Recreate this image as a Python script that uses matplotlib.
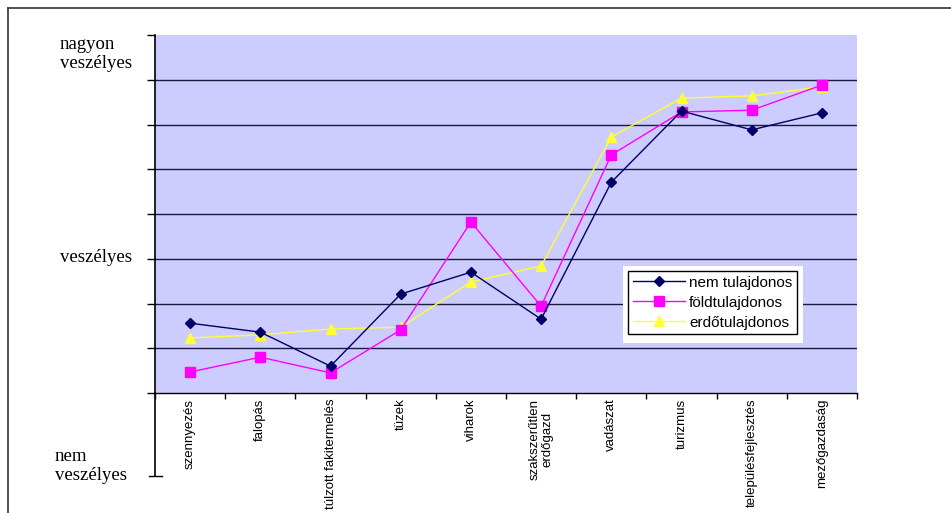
import numpy as np
import matplotlib.pyplot as plt
from matplotlib.lines import Line2D
from matplotlib.patches import Rectangle

categories = ["szennyezés", "falopás", "túlzott fakitermelés", "tüzek", "viharok",
              "szakszerűtlen\nerdőgazd", "vadászat", "turizmus",
              "településfejlesztés", "mezőgazdaság"]
nem_tulajdonos = [1.56, 1.36, 0.60, 2.21, 2.70, 1.65, 4.71, 6.30, 5.88, 6.26]
foldtulajdonos = [0.47, 0.80, 0.45, 1.41, 3.82, 1.94, 5.32, 6.28, 6.32, 6.88]
erdotulajdonos = [1.23, 1.30, 1.43, 1.47, 2.48, 2.84, 5.72, 6.59, 6.64, 6.84]
series_names = ["nem tulajdonos", "földtulajdonos", "erdőtulajdonos"]
level_labels = ["nagyon\nveszélyes", "veszélyes", "nem\nveszélyes"]

W, H = 951, 513
fig = plt.figure(figsize=(W / 100, H / 100), dpi=100)
fig.patch.set_facecolor("white")
# outer frame (only top and left edges are visible in the cropped original)
fig.add_artist(Line2D([8 / W, 1], [1 - 8 / H, 1 - 8 / H], transform=fig.transFigure,
                      color="#333333", linewidth=1.2))
fig.add_artist(Line2D([8 / W, 8 / W], [0, 1 - 8 / H], transform=fig.transFigure,
                      color="#333333", linewidth=1.2))

ax = fig.add_axes([155 / W, 120 / H, 702 / W, 358 / H])
ax.set_facecolor("#CCCCFF")

x = np.arange(len(categories))
h3, = ax.plot(x, erdotulajdonos, color="#FFFF33", marker="^", markersize=7, linewidth=1.0,
              label=series_names[2], zorder=3)
h2, = ax.plot(x, foldtulajdonos, color="#FF00FF", marker="s", markersize=6.5, linewidth=1.0,
              label=series_names[1], zorder=4)
h1, = ax.plot(x, nem_tulajdonos, color="#000066", marker="D", markersize=5, linewidth=1.0,
              label=series_names[0], zorder=5)

ax.set_xlim(-0.5, len(categories) - 0.5)
ax.set_ylim(0, 8)
for yv in range(1, 8):
    ax.axhline(yv, color="#1a1a40", linewidth=1.0, zorder=1)

ax.set_xticks(x)
ax.set_xticklabels(categories, rotation=90, fontsize=9.5, family="Liberation Sans",
                   va="top", ha="center", multialignment="center")
ax.tick_params(axis="x", which="major", length=0, pad=4)
ax.set_xticks(np.arange(-0.5, len(categories)), minor=True)
ax.tick_params(axis="x", which="minor", length=4, direction="out", width=1)
ax.set_yticks(range(0, 9))
ax.set_yticklabels([])
ax.tick_params(axis="y", length=6, direction="out", width=1)

for side in ["top", "right"]:
    ax.spines[side].set_visible(False)
ax.spines["left"].set_linewidth(1.2)
ax.spines["bottom"].set_linewidth(1.0)

# extended y axis down to the "nem veszélyes" level
low = -1.85
ax.add_line(Line2D([-0.5, -0.5], [0, low], color="black", linewidth=1.2, clip_on=False))
ax.add_line(Line2D([-0.58, -0.4], [low, low], color="black", linewidth=1.0, clip_on=False))

serif = "Liberation Serif"
fig.text(60 / W, 1 - 54 / H, level_labels[0], ha="left", va="center", fontsize=13.5,
         family=serif, linespacing=1.15)
fig.text(60 / W, 1 - 257 / H, level_labels[1], ha="left", va="center", fontsize=13.5,
         family=serif)
fig.text(55 / W, 1 - 466 / H, level_labels[2], ha="left", va="center", fontsize=13.5,
         family=serif, linespacing=1.15)

# white margin around the legend box
ax.add_patch(Rectangle(((623 - 155) / 702, (393 - 343) / 358), 180 / 702, 77 / 358,
                       transform=ax.transAxes, facecolor="white", edgecolor="none",
                       zorder=6))
leg = ax.legend([h1, h2, h3], series_names, loc="upper left",
                bbox_to_anchor=((628 - 155) / 702, (393 - 271) / 358),
                frameon=True, fancybox=False, framealpha=1, edgecolor="black",
                prop={"family": "Liberation Sans", "size": 11},
                handlelength=3.4, handletextpad=0.3, borderpad=0.3, labelspacing=0.4,
                borderaxespad=0)
leg.get_frame().set_linewidth(1.0)
leg.set_zorder(7)

fig.savefig("out.png", dpi=100)
